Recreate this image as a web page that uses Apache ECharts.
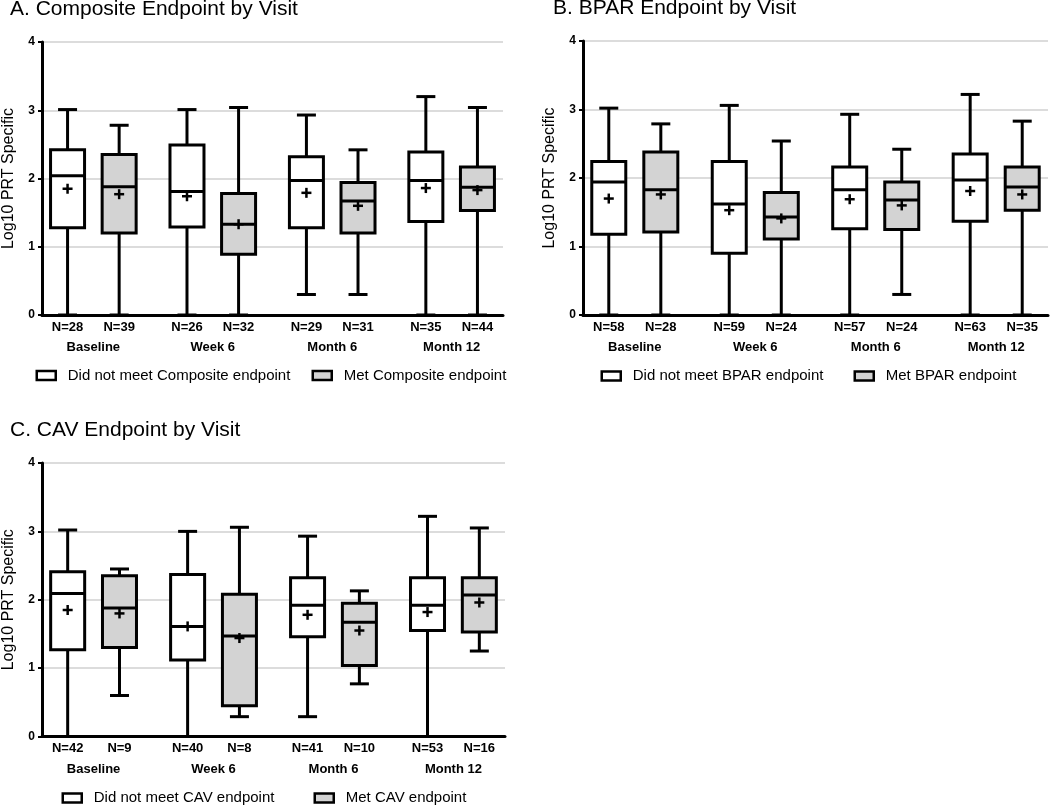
<!DOCTYPE html>
<html>
<head>
<meta charset="utf-8">
<script src="https://cdn.jsdelivr.net/npm/echarts@6/dist/echarts.min.js"></script>
<style>
html,body{margin:0;padding:0;background:#fff;}
#chart{width:1050px;height:807px;}
</style>
</head>
<body>
<div id="chart"></div>
<script>
// ---------------- DATA ----------------
const visits = ['Baseline', 'Week 6', 'Month 6', 'Month 12'];
const yTicks = [0, 1, 2, 3, 4];

// box = [min, Q1, median, Q3, max]
// A. Composite
const compNotMetBox = [[0, 1.28, 2.04, 2.42, 3.01], [0, 1.29, 1.81, 2.49, 3.01], [0.30, 1.28, 1.97, 2.32, 2.93], [0, 1.37, 1.97, 2.39, 3.20]];
const compNotMetMean = [1.85, 1.74, 1.79, 1.86];
const compNotMetN = [28, 26, 29, 35];
const compMetBox = [[0, 1.20, 1.88, 2.35, 2.78], [0, 0.89, 1.33, 1.78, 3.04], [0.30, 1.20, 1.67, 1.94, 2.42], [0, 1.53, 1.87, 2.17, 3.04]];
const compMetMean = [1.77, 1.33, 1.60, 1.83];
const compMetN = [39, 32, 31, 44];

// B. BPAR
const bparNotMetBox = [[0, 1.18, 1.94, 2.24, 3.02], [0, 0.90, 1.62, 2.24, 3.06], [0, 1.26, 1.83, 2.16, 2.93], [0, 1.37, 1.97, 2.35, 3.22]];
const bparNotMetMean = [1.70, 1.53, 1.69, 1.81];
const bparNotMetN = [58, 59, 57, 63];
const bparMetBox = [[0, 1.21, 1.83, 2.38, 2.79], [0, 1.11, 1.43, 1.79, 2.54], [0.30, 1.25, 1.68, 1.94, 2.42], [0, 1.53, 1.87, 2.16, 2.83]];
const bparMetMean = [1.76, 1.41, 1.60, 1.76];
const bparMetN = [28, 24, 24, 35];

// C. CAV
const cavNotMetBox = [[0, 1.27, 2.09, 2.41, 3.02], [0, 1.12, 1.61, 2.37, 3.00], [0.29, 1.46, 1.92, 2.32, 2.93], [0, 1.55, 1.92, 2.32, 3.22]];
const cavNotMetMean = [1.85, 1.61, 1.78, 1.82];
const cavNotMetN = [42, 40, 41, 53];
const cavMetBox = [[0.60, 1.30, 1.88, 2.35, 2.45], [0.29, 0.45, 1.47, 2.08, 3.06], [0.77, 1.04, 1.67, 1.95, 2.13], [1.25, 1.53, 2.07, 2.32, 3.05]];
const cavMetMean = [1.80, 1.44, 1.55, 1.96];
const cavMetN = [9, 8, 10, 16];

// ---------------- STYLE / LAYOUT ----------------
const FONT = '"Liberation Sans", Arial, sans-serif';
const GREY = '#d3d3d3';
const PAIR_OFFSET = 0.216;   // in category units
const BOX_HALF = 17, CAP_HALF = 9.5, PLUS_HALF = 5;

const panels = [
  { title: 'A. Composite Endpoint by Visit', label: 'Composite',
    notMet: { box: compNotMetBox, mean: compNotMetMean, n: compNotMetN },
    met: { box: compMetBox, mean: compMetMean, n: compMetN },
    grid: { left: 39, top: 42, width: 464, height: 273 },
    titleLeft: 10, titleTop: -2, legendTop: 367.5, legendLeft: [35.5, 311.5] },
  { title: 'B. BPAR Endpoint by Visit', label: 'BPAR',
    notMet: { box: bparNotMetBox, mean: bparNotMetMean, n: bparNotMetN },
    met: { box: bparMetBox, mean: bparMetMean, n: bparMetN },
    grid: { left: 583, top: 41, width: 465, height: 274 },
    titleLeft: 553, titleTop: -2.5, legendTop: 368, legendLeft: [600.5, 853.5] },
  { title: 'C. CAV Endpoint by Visit', label: 'CAV',
    notMet: { box: cavNotMetBox, mean: cavNotMetMean, n: cavNotMetN },
    met: { box: cavMetBox, mean: cavMetMean, n: cavMetN },
    grid: { left: 39, top: 463, width: 466, height: 273.5 },
    titleLeft: 10, titleTop: 419.5, legendTop: 790, legendLeft: [61.5, 313.5] }
];

function makeRender(side, fill) {
  return function (params, api) {
    const xv = api.value(0) + side * PAIR_OFFSET;
    const py = v => api.coord([xv, v])[1];
    const cx = api.coord([xv, 0])[0];
    const y0 = py(0);
    const yMin = py(api.value(1)), yQ1 = py(api.value(2)), yMed = py(api.value(3)),
          yQ3 = py(api.value(4)), yMax = py(api.value(5)), yMean = py(api.value(6));
    const n = api.value(7);
    const ls = { stroke: '#000', lineWidth: 3 };
    return {
      type: 'group',
      children: [
        { type: 'line', shape: { x1: cx, y1: yMax, x2: cx, y2: yQ3 }, style: ls },
        { type: 'line', shape: { x1: cx, y1: yQ1, x2: cx, y2: yMin }, style: ls },
        { type: 'line', shape: { x1: cx - CAP_HALF, y1: yMax, x2: cx + CAP_HALF, y2: yMax }, style: ls },
        { type: 'line', shape: { x1: cx - CAP_HALF, y1: yMin, x2: cx + CAP_HALF, y2: yMin }, style: ls },
        { type: 'rect', shape: { x: cx - BOX_HALF, y: yQ3, width: 2 * BOX_HALF, height: yQ1 - yQ3 },
          style: { fill: fill, stroke: '#000', lineWidth: 3 } },
        { type: 'line', shape: { x1: cx - BOX_HALF, y1: yMed, x2: cx + BOX_HALF, y2: yMed }, style: ls },
        { type: 'line', shape: { x1: cx - PLUS_HALF, y1: yMean, x2: cx + PLUS_HALF, y2: yMean }, style: { stroke: '#000', lineWidth: 2.5 } },
        { type: 'line', shape: { x1: cx, y1: yMean - PLUS_HALF, x2: cx, y2: yMean + PLUS_HALF }, style: { stroke: '#000', lineWidth: 2.5 } },
        { type: 'text', x: cx, y: y0 + 12,
          style: { text: 'N=' + n, fill: '#000', font: 'bold 13px ' + FONT, align: 'center', verticalAlign: 'middle' } }
      ]
    };
  };
}

const option = { animation: false, backgroundColor: '#fff', title: [], grid: [], xAxis: [], yAxis: [], legend: [], series: [] };

panels.forEach((p, k) => {
  option.title.push({
    text: p.title, left: p.titleLeft, top: p.titleTop, padding: 0,
    textStyle: { fontFamily: FONT, fontSize: 21, fontWeight: 'normal', color: '#000', lineHeight: 22 }
  });
  option.grid.push(Object.assign({ containLabel: false }, p.grid));
  option.xAxis.push({
    type: 'value', gridIndex: k, min: -0.43, max: 3.43,
    axisLine: { show: true, onZero: false, lineStyle: { color: '#000', width: 3 } },
    axisTick: { show: false }, splitLine: { show: false },
    axisLabel: {
      show: true, customValues: visits.map((v, i) => i),
      formatter: v => visits[Math.round(v)],
      margin: 26, fontFamily: FONT, fontSize: 13, fontWeight: 'bold', color: '#000'
    }
  });
  option.yAxis.push({
    type: 'value', gridIndex: k, min: yTicks[0], max: yTicks[yTicks.length - 1], interval: 1,
    name: 'Log10 PRT Specific', nameLocation: 'middle', nameGap: 25,
    nameTextStyle: { fontFamily: FONT, fontSize: 16, color: '#000' },
    axisLine: { show: true, onZero: false, lineStyle: { color: '#000', width: 3 } },
    axisTick: { show: true, length: 4, lineStyle: { color: '#000', width: 2 } },
    axisLabel: { fontFamily: FONT, fontSize: 12, fontWeight: 'bold', color: '#000', margin: 7 },
    splitLine: { show: true, lineStyle: { color: '#dcdcdc', width: 2 } }
  });
  [['notMet', -1, '#fff', 'Did not meet ' + p.label + ' endpoint'],
   ['met', 1, GREY, 'Met ' + p.label + ' endpoint']].forEach(([key, side, fill, name], s) => {
    const d = p[key];
    option.series.push({
      type: 'custom', name: name, xAxisIndex: k, yAxisIndex: k, silent: true, z: 5,
      renderItem: makeRender(side, fill),
      dimensions: ['cat', 'min', 'q1', 'median', 'q3', 'max', 'mean', 'n'],
      encode: { x: 0, y: [1, 2, 3, 4, 5, 6] },
      itemStyle: { color: fill, borderColor: '#000', borderWidth: 2.5 },
      data: d.box.map((b, i) => [i].concat(b, [d.mean[i], d.n[i]]))
    });
    option.legend.push({
      left: p.legendLeft[s], top: p.legendTop, padding: 0, itemWidth: 19, itemHeight: 9,
      icon: 'rect', selectedMode: false,
      data: [{ name: name, itemStyle: { color: fill, borderColor: '#000', borderWidth: 2.5 } }],
      textStyle: { fontFamily: FONT, fontSize: 15, color: '#000', lineHeight: 16, padding: [0, 0, 0, 7] }
    });
  });
});

const chart = echarts.init(document.getElementById('chart'), null, { renderer: 'canvas' });
chart.setOption(option);
</script>
</body>
</html>
